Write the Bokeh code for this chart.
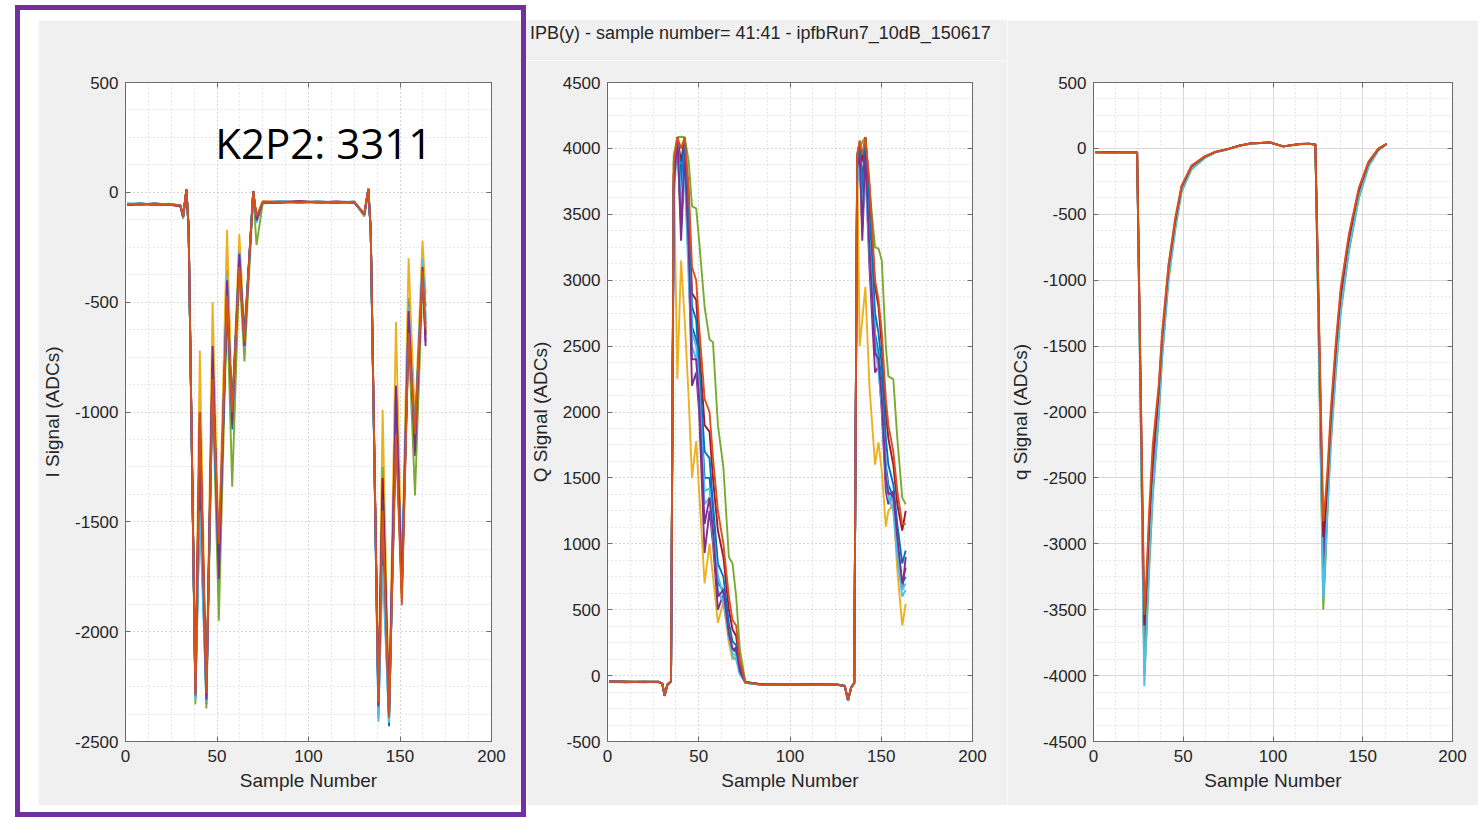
from bokeh.plotting import figure
from bokeh.layouts import row, column
from bokeh.models import FixedTicker, LinearAxis, Label, Range1d, Div
from bokeh.embed import file_html
from bokeh.resources import INLINE

# ---------------- data ----------------
sample_ticks = [0, 50, 100, 150, 200]
i_ticks = [-2500, -2000, -1500, -1000, -500, 0, 500]
q_ticks = [-500, 0, 500, 1000, 1500, 2000, 2500, 3000, 3500, 4000, 4500]
qn_ticks = [-4500, -4000, -3500, -3000, -2500, -2000, -1500, -1000, -500, 0, 500]

title_text = "IPB(y) -  sample number= 41:41  -  ipfbRun7_10dB_150617"
note_text = "K2P2: 3311"

# Panel 1 : I signal
i_samples = [1, 8, 16, 24, 30, 31.5, 33.3, 34.5, 38.2, 40.6, 44.2, 47.6, 51, 55.5, 58.3, 62.2, 65, 69.8, 71.6, 75,
             85, 95, 105, 115, 125, 130.5, 132.7, 134, 138.2, 140.5, 144, 147.8, 151, 154.7, 158.2, 162.3, 164]
i_blue = [-55, -50, -58, -54, -60, -115, 10, -170, -2300, -1300, -2330, -760, -1780, -350, -1080, -250, -700, 2, -130, -45,
          -40, -46, -43, -48, -42, -105, 14, -180, -2380, -1600, -2430, -930, -1820, -480, -1150, -320, -600]
i_yellow = [-52, -56, -50, -58, -62, -100, 14, -160, -2260, -720, -2300, -500, -1650, -170, -1000, -190, -640, 8, -110, -40,
            -45, -42, -48, -44, -46, -95, 16, -170, -2310, -990, -2360, -590, -1750, -300, -1050, -220, -460]
i_purple = [-58, -54, -52, -56, -64, -110, 12, -165, -2280, -1050, -2300, -700, -1730, -420, -1040, -300, -690, 4, -125, -48,
            -44, -40, -47, -42, -45, -100, 15, -175, -2330, -1340, -2380, -880, -1800, -560, -1200, -360, -680]
i_green = [-54, -58, -55, -52, -60, -120, 10, -170, -2330, -1150, -2350, -880, -1950, -500, -1340, -360, -770, -10, -240, -50,
           -46, -43, -41, -47, -44, -110, 12, -180, -2340, -1250, -2400, -1000, -1850, -650, -1380, -400, -640]
i_lightblue = [-50, -53, -57, -55, -58, -112, 13, -165, -2310, -1250, -2310, -820, -1720, -450, -1020, -280, -680, 3, -140, -46,
               -43, -47, -40, -45, -47, -102, 15, -178, -2410, -1500, -2410, -1000, -1780, -600, -1100, -330, -560]
i_darkred = [-56, -52, -54, -57, -61, -108, 13, -160, -2270, -1000, -2290, -800, -1690, -480, -1000, -330, -670, 5, -115, -44,
             -47, -42, -45, -43, -46, -98, 16, -172, -2320, -1300, -2370, -1050, -1830, -620, -1120, -370, -650]
i_blue2 = [-53, -55, -51, -55, -59, -110, 12, -168, -2290, -1400, -2270, -900, -1700, -520, -980, -310, -650, 4, -120, -45,
           -45, -45, -44, -45, -45, -100, 15, -176, -2350, -1550, -2390, -1100, -1760, -640, -1080, -350, -520]
i_lightblue2 = [-54, -51, -55, -53, -62, -113, 11, -167, -2300, -1450, -2320, -820, -1740, -380, -1060, -270, -710, 3, -135, -47,
                -42, -44, -46, -44, -43, -103, 14, -174, -2395, -1700, -2415, -960, -1790, -520, -1130, -300, -580]
i_purple2 = [-57, -53, -56, -55, -63, -111, 12, -166, -2285, -1150, -2310, -760, -1760, -400, -1060, -280, -700, 4, -128, -46,
             -45, -41, -45, -46, -44, -101, 15, -173, -2340, -1400, -2390, -900, -1810, -540, -1180, -340, -700]
i_orange = [-55, -52, -56, -54, -60, -108, 15, -155, -2290, -1000, -2280, -850, -1600, -470, -1000, -340, -680, 6, -110, -42,
            -44, -46, -43, -45, -44, -98, 18, -165, -2320, -1450, -2390, -1100, -1880, -640, -1100, -360, -620]

# Panel 2 : Q signal
q_samples = [1, 10, 20, 28, 30, 31.3, 32.8, 34.8, 36.3, 38.3, 40.3, 42.3, 44.5, 46.3, 48.6, 50.2, 53.2, 55.9, 57.8, 60.5,
             63.5, 66.5, 68.5, 70.5, 72.5, 75.5, 85, 100, 115, 125, 130, 131.8, 133.5, 135.2, 136.8, 138.2, 139.6, 141.3,
             143.5, 146.6, 148.5, 150.3, 152.5, 153.9, 156.6, 158.8, 161.5, 163.4]
q_blue = [-47, -45, -50, -46, -60, -155, -68, -42,
          3700, 4085, 3700, 4050, 3300, 2650, 2550, 2250, 1500, 1500, 1200, 700, 650, 330, 200, 180, 30,
          -55, -70, -66, -72, -64, -78, -190, -92, -58,
          3850, 4000, 3600, 4080, 3400, 2600, 2450, 2200, 1600, 1450, 1350, 1000, 700, 750]
q_yellow = [-45, -50, -46, -48, -58, -145, -70, -45,
            3900, 2250, 3150, 2700, 2100, 1500, 1780, 1400, 700, 1000, 750, 400, 560, 250, 120, 140, 20,
            -50, -68, -64, -70, -66, -82, -185, -88, -55,
            3950, 2500, 2700, 2950, 2200, 1600, 1770, 1550, 1130, 1250, 1300, 800, 380, 545]
q_purple = [-44, -48, -47, -50, -62, -150, -72, -44,
            3800, 4080, 3300, 3900, 3100, 2200, 2300, 2000, 930, 1250, 1000, 500, 620, 300, 190, 200, 40,
            -52, -66, -70, -65, -68, -80, -185, -90, -56,
            3900, 3950, 3300, 3900, 3100, 2300, 2350, 2000, 1400, 1300, 1400, 1000, 650, 900]
q_green = [-46, -47, -45, -49, -60, -140, -66, -40,
           3950, 4085, 4088, 4085, 3900, 3560, 3545, 3300, 2800, 2550, 2530, 1900, 1580, 900, 850, 600, 200,
           -45, -70, -66, -68, -66, -80, -190, -90, -60,
           3800, 4000, 4050, 4085, 3700, 3250, 3240, 3150, 2500, 2270, 2250, 1800, 1350, 1300]
q_lightblue = [-45, -49, -48, -47, -59, -148, -70, -43,
               3600, 4085, 3500, 3800, 3000, 2500, 2400, 2100, 1300, 1350, 1050, 650, 550, 300, 150, 120, 10,
               -55, -72, -68, -70, -67, -79, -192, -93, -57,
               3700, 3900, 3450, 3800, 3200, 2500, 2300, 2050, 1500, 1350, 1250, 900, 600, 650]
q_darkred = [-46, -46, -49, -48, -61, -152, -69, -41,
             3800, 4085, 3900, 4085, 3600, 2900, 2850, 2500, 1900, 1850, 1500, 1100, 900, 500, 350, 300, 80,
             -48, -69, -65, -71, -65, -81, -188, -89, -57,
             3950, 4050, 3900, 4085, 3700, 2950, 2800, 2500, 2000, 1800, 1600, 1300, 1100, 1250]
q_blue2 = [-48, -51, -47, -46, -60, -151, -71, -42,
           3750, 4085, 3800, 4080, 3500, 2800, 2700, 2350, 1700, 1650, 1300, 850, 750, 400, 260, 230, 50,
           -53, -67, -69, -67, -69, -77, -187, -91, -55,
           3900, 4020, 3750, 4080, 3550, 2750, 2600, 2350, 1800, 1600, 1450, 1150, 850, 950]
q_lightblue2 = [-46, -48, -49, -47, -61, -149, -69, -43,
                3650, 4085, 3600, 3950, 3200, 2600, 2500, 2200, 1400, 1420, 1100, 760, 600, 320, 170, 150, 20,
                -54, -71, -67, -71, -66, -78, -191, -92, -57,
                3750, 3950, 3500, 3900, 3300, 2550, 2380, 2120, 1550, 1400, 1300, 950, 650, 700]
q_purple2 = [-45, -47, -48, -49, -61, -150, -71, -44,
             3700, 4085, 3400, 3950, 3250, 2400, 2400, 2100, 1150, 1350, 1100, 600, 650, 320, 200, 210, 35,
             -51, -67, -69, -66, -67, -79, -186, -91, -56,
             3850, 3950, 3400, 3950, 3250, 2450, 2400, 2100, 1500, 1380, 1380, 1050, 700, 820]
q_orange = [-45, -48, -46, -47, -60, -148, -70, -42,
            3900, 4085, 4000, 4085, 3700, 3100, 3000, 2650, 2100, 2000, 1650, 1250, 1000, 600, 420, 380, 120,
            -50, -70, -67, -69, -66, -80, -186, -90, -56,
            3950, 4060, 3950, 4085, 3750, 3000, 2850, 2600, 2100, 1900, 1700, 1400, 1150, 1150]

# Panel 3 : q signal
n_samples = [1, 10, 18, 24.3, 28.3, 29.5, 31, 33, 36.3, 38.2, 41.8, 45.5, 49.1, 54.6, 61.9, 68, 74.7, 81, 87.5, 98.4,
             105.7, 114.9, 120, 123.6, 128, 129.2, 130.4, 132.2, 135, 137.7, 142.3, 147.8, 153.2, 158.7, 163.3]
n_blue = [-29, -30, -30, -30, -3750, -3450, -2950, -2420, -1900, -1480, -930, -570, -300, -142, -66, -27, -6, 20, 37, 45,
          15, 33, 35, 30, -3050, -2850, -2560, -2100, -1570, -1140, -700, -335, -118, -7, 34]
n_yellow = [-28, -31, -30, -29, -3950, -3580, -3080, -2540, -1980, -1540, -960, -590, -310, -150, -70, -28, -7, 19, 37, 45,
            14, 32, 34, 30, -3350, -3050, -2680, -2190, -1650, -1210, -750, -360, -130, -11, 33]
n_purple = [-30, -30, -29, -31, -3900, -3520, -3020, -2500, -1950, -1520, -950, -580, -305, -145, -68, -27, -6, 19, 37, 45,
            15, 33, 34, 30, -3250, -2950, -2620, -2150, -1620, -1180, -730, -350, -125, -10, 34]
n_green = [-30, -29, -31, -30, -4000, -3700, -3200, -2650, -2050, -1600, -1000, -620, -330, -160, -75, -30, -8, 18, 36, 45,
           14, 32, 34, 30, -3500, -3150, -2750, -2250, -1700, -1250, -780, -380, -140, -15, 33]
n_lightblue = [-29, -31, -30, -29, -4080, -3650, -3150, -2600, -2020, -1580, -990, -610, -320, -155, -72, -29, -7, 19, 37, 44,
               15, 32, 35, 31, -3420, -3100, -2720, -2220, -1680, -1230, -770, -370, -135, -12, 34]
n_darkred = [-30, -29, -30, -30, -3620, -3330, -2840, -2330, -1850, -1440, -900, -550, -290, -136, -63, -26, -5, 20, 38, 45,
             15, 33, 35, 30, -2950, -2750, -2500, -2050, -1520, -1100, -670, -315, -108, -4, 34]
n_orange = [-28, -32, -29, -30, -3540, -3250, -2750, -2250, -1800, -1400, -880, -530, -280, -130, -60, -25, -5, 20, 38, 45,
            15, 33, 35, 30, -2830, -2650, -2430, -1980, -1470, -1060, -650, -300, -100, 0, 35]

# MATLAB default line colours
BLUE, ORANGE, YELLOW, PURPLE = "#0072BD", "#D95319", "#EDB120", "#7E2F8E"
GREEN, LIGHTBLUE, DARKRED = "#77AC30", "#4DBEEE", "#A2142F"

i_traces = [(i_blue, BLUE), (i_yellow, YELLOW), (i_purple, PURPLE), (i_green, GREEN),
            (i_lightblue, LIGHTBLUE), (i_darkred, DARKRED), (i_blue2, BLUE), (i_lightblue2, LIGHTBLUE),
            (i_purple2, PURPLE), (i_orange, ORANGE)]
q_traces = [(q_blue, BLUE), (q_yellow, YELLOW), (q_purple, PURPLE), (q_green, GREEN),
            (q_lightblue, LIGHTBLUE), (q_darkred, DARKRED), (q_blue2, BLUE), (q_lightblue2, LIGHTBLUE),
            (q_purple2, PURPLE), (q_orange, ORANGE)]
n_traces = [(n_blue, BLUE), (n_yellow, YELLOW), (n_purple, PURPLE), (n_green, GREEN),
            (n_lightblue, LIGHTBLUE), (n_darkred, DARKRED), (n_orange, ORANGE)]

for xs, tr in ((i_samples, i_traces), (q_samples, q_traces), (n_samples, n_traces)):
    for ys, _ in tr:
        assert len(ys) == len(xs), (len(xs), len(ys))

# ---------------- styling ----------------
GRAY_BG = "#f0f0f0"
AXC = "#6b6b6b"
TXT = "#262626"
FONT = "Liberation Sans"


def style_axis(ax):
    ax.major_tick_in = 5
    ax.major_tick_out = 0
    ax.minor_tick_in = 0
    ax.minor_tick_out = 0
    ax.axis_line_color = AXC
    ax.major_tick_line_color = AXC
    ax.major_label_text_font = FONT
    ax.major_label_text_font_size = "17px"
    ax.major_label_text_color = TXT
    ax.axis_label_text_font = FONT
    ax.axis_label_text_font_size = "19px"
    ax.axis_label_text_font_style = "normal"
    ax.axis_label_text_color = TXT


def make_panel(width, height, top, left, right, ylo, yhi, yticks, ylabel, traces, xs, solid_major):
    p = figure(width=width, height=height, x_range=Range1d(0, 200), y_range=Range1d(ylo, yhi),
               output_backend="svg", toolbar_location=None, tools="",
               min_border_left=left, min_border_right=right, min_border_top=top, min_border_bottom=64,
               background_fill_color="white", border_fill_color=GRAY_BG,
               x_axis_label="Sample Number", y_axis_label=ylabel)
    p.outline_line_color = AXC
    xt = FixedTicker(ticks=sample_ticks, minor_ticks=[k * 12.5 for k in range(17)])
    step = (yticks[1] - yticks[0]) / 4.0
    yt = FixedTicker(ticks=yticks, minor_ticks=[yticks[0] + k * step for k in range(4 * (len(yticks) - 1) + 1)])
    p.xaxis.ticker = xt
    p.yaxis.ticker = yt
    p.xgrid.ticker = xt
    p.ygrid.ticker = yt
    for ax in p.xaxis + p.yaxis:
        style_axis(ax)
    p.xaxis.major_label_overrides = {t: str(t) for t in sample_ticks}
    p.yaxis.major_label_overrides = {t: str(t) for t in yticks}
    p.xaxis.major_label_standoff = 8
    p.xaxis.axis_label_standoff = 5
    p.yaxis.major_label_standoff = 7
    p.yaxis.axis_label_standoff = 9
    # mirrored axes with inward ticks (box)
    for loc, tk in (("right", yt), ("above", xt)):
        ax = LinearAxis(ticker=tk)
        style_axis(ax)
        ax.major_label_text_font_size = "1px"
        ax.major_label_text_alpha = 0
        ax.major_label_standoff = 0
        p.add_layout(ax, loc)
    # grid
    if solid_major:
        p.grid.grid_line_color = "#dadada"
        p.grid.grid_line_dash = "solid"
    else:
        p.grid.grid_line_color = "#c9c9c9"
        p.grid.grid_line_dash = "1 3"
    p.grid.minor_grid_line_color = "#cdcdcd"
    p.grid.minor_grid_line_dash = "1 3"
    for ys, col in traces:
        p.line(xs, ys, line_color=col, line_width=1.9)
    return p


p1 = make_panel(483, 785, 62, 87, 30, -2500, 500, i_ticks, "I Signal (ADCs)", i_traces, i_samples, False)
p2 = make_panel(481, 745, 22, 80, 35, -500, 4500, q_ticks, "Q Signal (ADCs)", q_traces, q_samples, False)
p3 = make_panel(471, 785, 62, 80, 26, -4500, 500, qn_ticks, "q Signal (ADCs)", n_traces, n_samples, True)

p1.add_layout(Label(x=49, y=226, text=note_text, text_font="Open Sans", text_font_size="42px",
                    text_color="black", text_baseline="alphabetic", text_align="left"))

# overall title strip above the middle plot
title_div = Div(text=title_text, width=481, height=40, margin=(0, 0, 0, 0),
                styles={"background-color": GRAY_BG, "font-family": FONT, "font-size": "18px",
                        "color": TXT, "padding-left": "4px", "line-height": "26px",
                        "white-space": "nowrap", "box-sizing": "border-box"})

middle = column(title_div, p2, margin=(20, 0, 0, 0), spacing=0)
left = column(p1, styles={"border": "5px solid #7030a0", "padding": "10px 0px 7px 18px",
                          "background-color": "white"}, margin=(5, 0, 0, 15))
p3.margin = (20, 0, 0, 0)
layout = row(left, middle, p3)

open("out.html", "w").write(file_html(layout, INLINE))
